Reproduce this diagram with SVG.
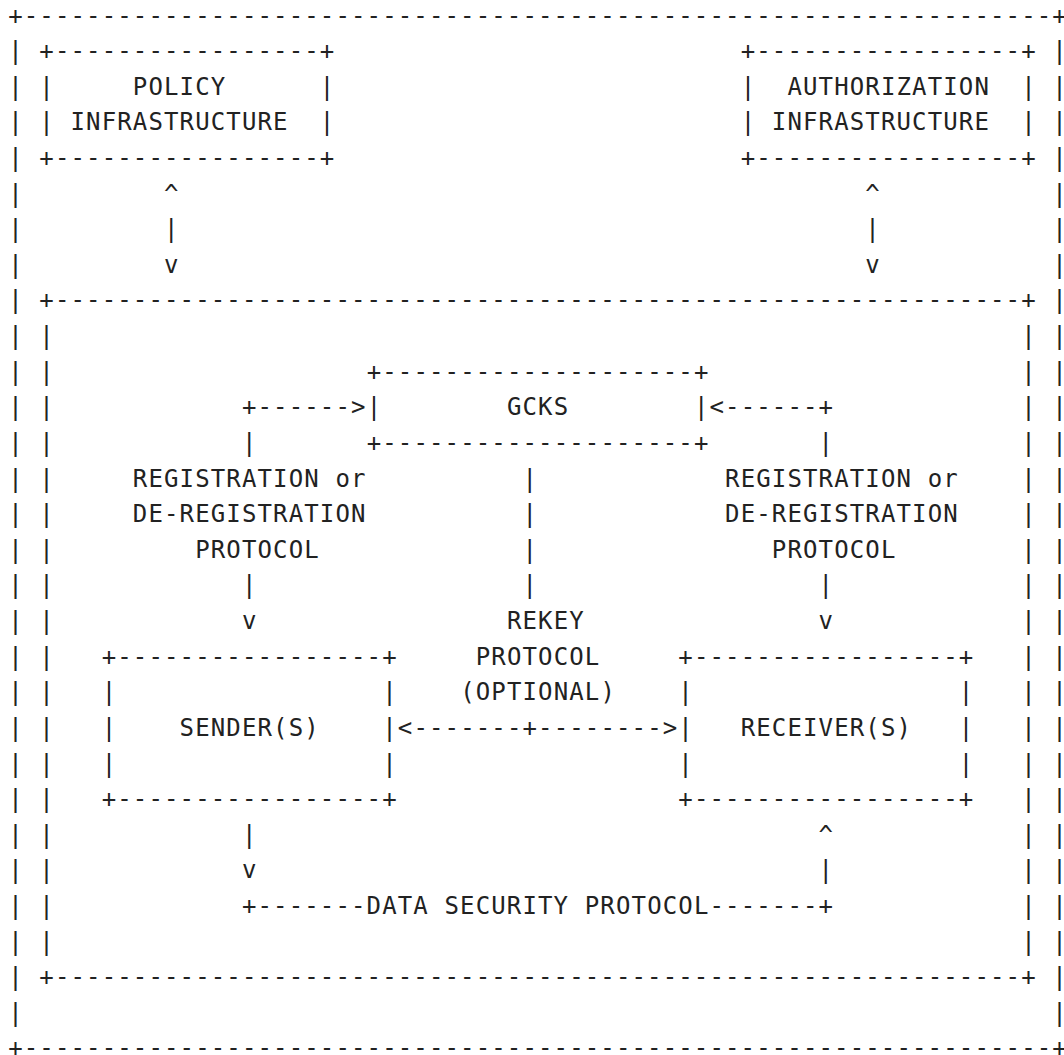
<svg xmlns="http://www.w3.org/2000/svg" width="1064" height="1055" viewBox="0 0 1064 1055">
<style>
.t{font-family:"DejaVu Sans Mono","Liberation Mono",monospace;font-size:24px;letter-spacing:1.135px;fill:#222}
</style>
<rect width="1064" height="1055" fill="#fff"/>
<g id="outer-frame">
<text class="t" x="8.17" y="23.5">+------------------------------------------------------------------+</text>
<text class="t" x="8.17" y="1056.48">+------------------------------------------------------------------+</text>
<text class="t" x="8.17 8.17 8.17 8.17 8.17 8.17 8.17 8.17 8.17 8.17 8.17 8.17 8.17 8.17 8.17 8.17 8.17 8.17 8.17 8.17 8.17 8.17 8.17 8.17 8.17 8.17 8.17 8.17" y="59.12 94.74 130.36 165.98 201.6 237.22 272.84 308.46 344.08 379.7 415.32 450.94 486.56 522.18 557.8 593.42 629.04 664.66 700.28 735.9 771.52 807.14 842.76 878.38 914 949.62 985.24 1020.86">||||||||||||||||||||||||||||</text>
<text class="t" x="1052.37 1052.37 1052.37 1052.37 1052.37 1052.37 1052.37 1052.37 1052.37 1052.37 1052.37 1052.37 1052.37 1052.37 1052.37 1052.37 1052.37 1052.37 1052.37 1052.37 1052.37 1052.37 1052.37 1052.37 1052.37 1052.37 1052.37 1052.37" y="59.12 94.74 130.36 165.98 201.6 237.22 272.84 308.46 344.08 379.7 415.32 450.94 486.56 522.18 557.8 593.42 629.04 664.66 700.28 735.9 771.52 807.14 842.76 878.38 914 949.62 985.24 1020.86">||||||||||||||||||||||||||||</text>
</g>
<g id="policy-infrastructure">
<text class="t" x="39.34" y="59.12">+-----------------+</text>
<text class="t" x="39.34 39.34" y="94.74 130.36">||</text>
<text class="t" x="319.87 319.87" y="94.74 130.36">||</text>
<text class="t" x="132.85" y="94.74">POLICY</text>
<text class="t" x="70.51" y="130.36">INFRASTRUCTURE</text>
<text class="t" x="39.34" y="165.98">+-----------------+</text>
</g>
<g id="authorization-infrastructure">
<text class="t" x="740.67" y="59.12">+-----------------+</text>
<text class="t" x="740.67 740.67" y="94.74 130.36">||</text>
<text class="t" x="1021.2 1021.2" y="94.74 130.36">||</text>
<text class="t" x="787.42" y="94.74">AUTHORIZATION</text>
<text class="t" x="771.84" y="130.36">INFRASTRUCTURE</text>
<text class="t" x="740.67" y="165.98">+-----------------+</text>
</g>
<g id="group-area">
<text class="t" x="39.34" y="308.46">+--------------------------------------------------------------+</text>
<text class="t" x="39.34" y="985.24">+--------------------------------------------------------------+</text>
<text class="t" x="39.34 39.34 39.34 39.34 39.34 39.34 39.34 39.34 39.34 39.34 39.34 39.34 39.34 39.34 39.34 39.34 39.34 39.34" y="344.08 379.7 415.32 450.94 486.56 522.18 557.8 593.42 629.04 664.66 700.28 735.9 771.52 807.14 842.76 878.38 914 949.62">||||||||||||||||||</text>
<text class="t" x="1021.2 1021.2 1021.2 1021.2 1021.2 1021.2 1021.2 1021.2 1021.2 1021.2 1021.2 1021.2 1021.2 1021.2 1021.2 1021.2 1021.2 1021.2" y="344.08 379.7 415.32 450.94 486.56 522.18 557.8 593.42 629.04 664.66 700.28 735.9 771.52 807.14 842.76 878.38 914 949.62">||||||||||||||||||</text>
</g>
<g id="gcks">
<text class="t" x="366.63" y="379.7">+--------------------+</text>
<text class="t" x="366.63" y="415.32">|</text>
<text class="t" x="693.91" y="415.32">|</text>
<text class="t" x="506.89" y="415.32">GCKS</text>
<text class="t" x="366.63" y="450.94">+--------------------+</text>
</g>
<g id="senders">
<text class="t" x="101.68" y="664.66">+-----------------+</text>
<text class="t" x="101.68 101.68 101.68" y="700.28 735.9 771.52">|||</text>
<text class="t" x="382.21 382.21 382.21" y="700.28 735.9 771.52">|||</text>
<text class="t" x="179.61" y="735.9">SENDER(S)</text>
<text class="t" x="101.68" y="807.14">+-----------------+</text>
</g>
<g id="receivers">
<text class="t" x="678.33" y="664.66">+-----------------+</text>
<text class="t" x="678.33 678.33 678.33" y="700.28 735.9 771.52">|||</text>
<text class="t" x="958.86 958.86 958.86" y="700.28 735.9 771.52">|||</text>
<text class="t" x="740.67" y="735.9">RECEIVER(S)</text>
<text class="t" x="678.33" y="807.14">+-----------------+</text>
</g>
<g id="connectors">
<text class="t" x="164.02 164.02 164.02" y="201.6 237.22 272.84">^|v</text>
<text class="t" x="865.35 865.35 865.35" y="201.6 237.22 272.84">^|v</text>
<text class="t" x="241.95" y="415.32">+------&gt;</text>
<text class="t" x="709.5" y="415.32">&lt;------+</text>
<text class="t" x="241.95" y="450.94">|</text>
<text class="t" x="818.59" y="450.94">|</text>
<text class="t" x="132.85" y="486.56">REGISTRATION or</text>
<text class="t" x="132.85" y="522.18">DE-REGISTRATION</text>
<text class="t" x="195.19" y="557.8">PROTOCOL</text>
<text class="t" x="241.95 241.95" y="593.42 629.04">|v</text>
<text class="t" x="725.08" y="486.56">REGISTRATION or</text>
<text class="t" x="725.08" y="522.18">DE-REGISTRATION</text>
<text class="t" x="771.84" y="557.8">PROTOCOL</text>
<text class="t" x="818.59 818.59" y="593.42 629.04">|v</text>
<text class="t" x="522.48 522.48 522.48 522.48" y="486.56 522.18 557.8 593.42">||||</text>
<text class="t" x="506.89" y="629.04">REKEY</text>
<text class="t" x="475.72" y="664.66">PROTOCOL</text>
<text class="t" x="460.14" y="700.28">(OPTIONAL)</text>
<text class="t" x="397.8" y="735.9">&lt;-------+--------&gt;</text>
<text class="t" x="241.95 241.95" y="842.76 878.38">|v</text>
<text class="t" x="818.59 818.59" y="842.76 878.38">^|</text>
<text class="t" x="241.95" y="914">+-------DATA SECURITY PROTOCOL-------+</text>
</g>
</svg>
